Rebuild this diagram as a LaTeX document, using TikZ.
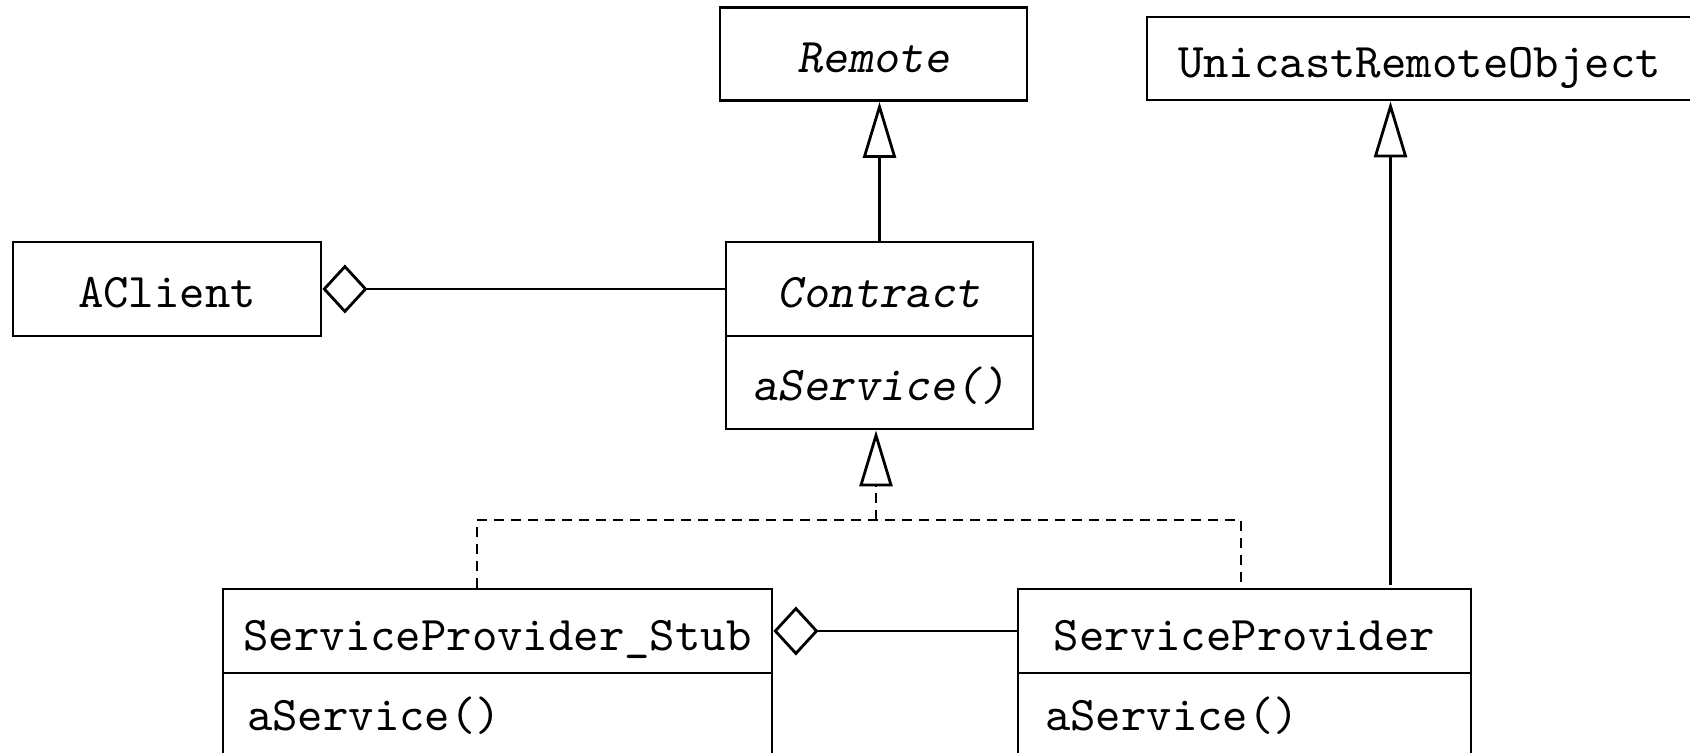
\documentclass[tikz,border=0pt]{standalone}
\usepackage{fontspec}
\setmonofont{lmmono10-regular.otf}[ItalicFont=lmmonoslant10-regular.otf]
\usetikzlibrary{arrows.meta,calc}
\begin{document}
\begin{tikzpicture}[x=0.5pt,y=-0.5pt,
  line width=1.4pt,
  cls/.style={draw,rectangle,font=\fontsize{24.2}{29}\selectfont\ttfamily,inner sep=0pt,text height=21pt,text depth=2pt},
  ops/.style={text height=14pt,text depth=2.6pt},
  flush/.style={outer sep=0pt,anchor=north},
  abstract/.style={font=\fontsize{24.2}{29}\selectfont\ttfamily\itshape},
  inherit/.style={-{Triangle[open,length=28pt,width=16.5pt]}},
  realize/.style={dashed,dash pattern=on 5pt off 3.5pt,-{Triangle[open,length=28pt,width=16.5pt]}},
  dashline/.style={dash pattern=on 5pt off 3.5pt},
  aggr/.style={{Diamond[open,length=22.5pt,width=24.5pt]}-}]
\clip (0,0) rectangle (1690,753);

% classes
\node[cls,abstract,minimum width=153.5pt,minimum height=46.5pt] (remote) at (873.5,54) {Remote};
\node[cls,minimum width=272.5pt,minimum height=41.5pt] (uro) at (1419.5,58.5) {UnicastRemoteObject};
\node[cls,minimum width=154pt,minimum height=47pt] (aclient) at (167,289) {AClient};
\node[cls,abstract,minimum width=153.5pt,minimum height=47pt] (contract) at (879.5,289) {Contract};
\node[cls,abstract,flush,text height=20pt,text depth=2pt,minimum width=153.5pt,minimum height=46.5pt] (contractops) at ([yshift=0.7pt]contract.south) {aService()};

\node[cls,minimum width=274.5pt,minimum height=42pt] (stub) at (497.5,631) {ServiceProvider\_Stub};
\node[cls,ops,flush,minimum height=46pt,text width=250.5pt,inner xsep=12pt,align=left] (stubops) at ([yshift=0.7pt]stub.south) {aService()};

\node[cls,minimum width=226.5pt,minimum height=42pt] (sp) at (1244.5,631) {ServiceProvider};
\node[cls,ops,flush,minimum height=46pt,text width=199.5pt,inner xsep=13.5pt,align=left] (spops) at ([yshift=0.7pt]sp.south) {aService()};

% connectors
\draw[inherit] (contract.north) -- (contract.north |- remote.south);
\draw[inherit,shorten <=1.5pt] ([xshift=73pt]sp.north) -- ([xshift=73pt]sp.north |- uro.south);
\draw[aggr] (aclient.east) -- (contract.west);
\draw[aggr] (stub.east) -- (sp.west);

\coordinate (junction) at (876,520);
\draw[dashline] ([xshift=-10.25pt]stub.north) |- (junction) -| ([xshift=-1.75pt]sp.north);
\draw[realize,shorten >=0.7pt] (junction) -- (junction |- contractops.south);
\end{tikzpicture}
\end{document}
